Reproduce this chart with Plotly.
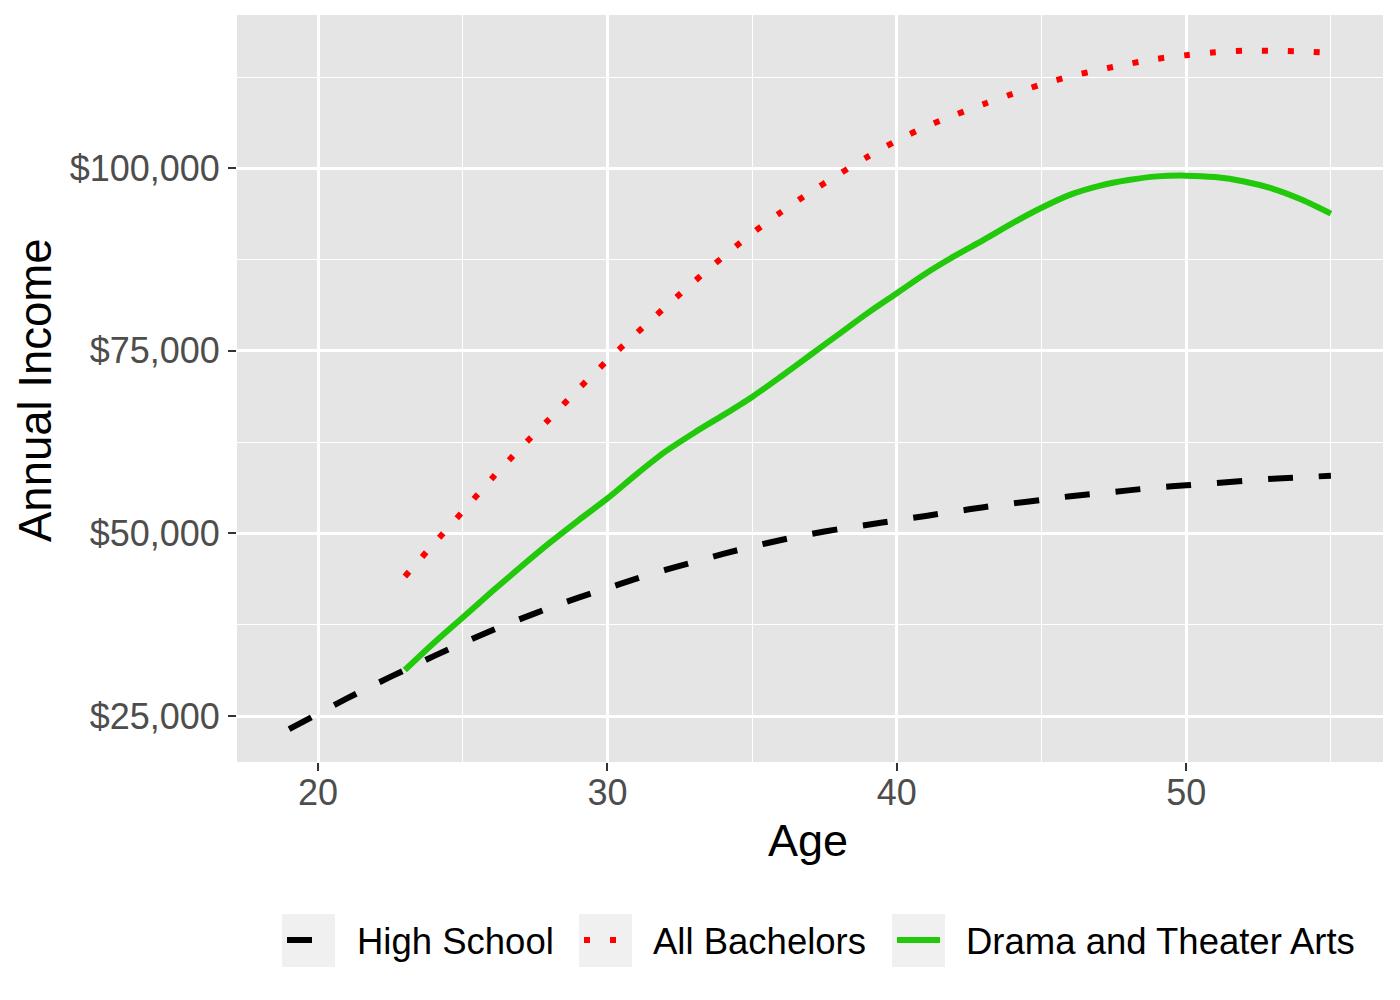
import plotly.graph_objects as go

# ---------------- data ----------------
ages_hs = [19, 20, 21, 22, 23, 24, 25, 26, 27, 28, 29, 30, 31, 32, 33, 34, 35, 36, 37,
           38, 39, 40, 41, 42, 43, 44, 45, 46, 47, 48, 49, 50, 51, 52, 53, 54, 55]
income_hs = [23200, 25300, 27400, 29400, 31300, 33200, 35000, 36700, 38300, 39800,
             41200, 42500, 43800, 45000, 46100, 47200, 48200, 49100, 49900, 50600,
             51200, 51800, 52400, 53000, 53600, 54100, 54600, 55100, 55500, 55900,
             56300, 56600, 56900, 57200, 57500, 57700, 57900]

ages_ba = [23, 24, 25, 26, 27, 28, 29, 30, 31, 32, 33, 34, 35, 36, 37, 38, 39,
           40, 41, 42, 43, 44, 45, 46, 47, 48, 49, 50, 51, 52, 53, 54, 55]
income_ba = [44100, 48600, 53000, 57500, 61700, 65700, 69800, 73700, 77400, 81000,
             84500, 87900, 91100, 94000, 96700, 99200, 101600, 103800, 105700, 107300,
             108800, 110200, 111500, 112600, 113500, 114300, 115000, 115500, 115900,
             116100, 116100, 116000, 115800]

ages_dr = [23, 24, 25, 26, 27, 28, 29, 30, 31, 32, 33, 34, 35, 36, 37, 38, 39,
           40, 41, 42, 43, 44, 45, 46, 47, 48, 49, 50, 51, 52, 53, 54, 55]
income_dr = [31300, 35000, 38500, 42000, 45400, 48700, 51800, 54800, 58100, 61200,
             63800, 66200, 68700, 71500, 74400, 77300, 80200, 82900, 85600, 88000,
             90200, 92500, 94600, 96400, 97600, 98400, 98900, 99000, 98800, 98200,
             97200, 95700, 93800]

series_names = ["High School", "All Bachelors", "Drama and Theater Arts"]
series_colors = ["#000000", "#FF0000", "#22C80A"]
series_dash = ["25px,26px", "6px,20px", "solid"]

x_ticks = [20, 30, 40, 50]
y_ticks = [25000, 50000, 75000, 100000]
y_tick_labels = ["$25,000", "$50,000", "$75,000", "$100,000"]

# ---------------- layout geometry ----------------
# the page body has an 8px margin, so the figure is drawn 8px in from the corner
OFF = 8
W, H = 1400 - OFF, 1000 - OFF
ML, MR, MT, MB = 237 - OFF, 17, 15 - OFF, 238
PW, PH = W - ML - MR, H - MT - MB
FONT = "Liberation Sans, Arial, Helvetica, sans-serif"
LW = 6


def px(xp):
    """screen x pixel -> paper coordinate"""
    return (xp - OFF - ML) / PW


def py(yp):
    """screen y pixel -> paper coordinate"""
    return (H - MB - (yp - OFF)) / PH


fig = go.Figure()
for ages, vals, name, col, dash in zip(
        [ages_hs, ages_ba, ages_dr], [income_hs, income_ba, income_dr],
        series_names, series_colors, series_dash):
    fig.add_trace(go.Scatter(
        x=ages, y=vals, mode="lines", name=name, showlegend=False,
        line=dict(color=col, width=LW, dash=dash, shape="spline", smoothing=0.8),
        hoverinfo="x+y+name"))

fig.update_layout(
    width=W, height=H,
    margin=dict(l=ML, r=MR, t=MT, b=MB, pad=0),
    paper_bgcolor="white", plot_bgcolor="#E5E5E5",
    font=dict(family=FONT, size=36, color="#4D4D4D"),
    showlegend=False,
)

fig.update_xaxes(
    range=[17.2, 56.8], tickvals=x_ticks, ticktext=[str(v) for v in x_ticks],
    showgrid=True, gridcolor="white", gridwidth=2.6, zeroline=False, showline=False,
    ticks="outside", ticklen=8, tickwidth=2.2, tickcolor="#333333",
    tickfont=dict(family=FONT, size=36, color="#4D4D4D"),
    minor=dict(tickvals=[15, 25, 35, 45, 55], showgrid=True, gridcolor="white",
               gridwidth=1.3, ticks=""),
    ticklabelstandoff=-9,
)
fig.update_yaxes(
    range=[18700, 121000], tickvals=y_ticks, ticktext=y_tick_labels,
    showgrid=True, gridcolor="white", gridwidth=2.6, zeroline=False, showline=False,
    ticks="outside", ticklen=8, tickwidth=2.2, tickcolor="#333333",
    tickfont=dict(family=FONT, size=36, color="#4D4D4D"),
    minor=dict(tickvals=[37500, 62500, 87500, 112500], showgrid=True,
               gridcolor="white", gridwidth=1.3, ticks=""),
    ticklabelstandoff=1,
)

# axis titles
fig.add_annotation(text="Age", x=px(808), y=py(840), xref="paper", yref="paper",
                   showarrow=False, xanchor="center", yanchor="middle",
                   font=dict(family=FONT, size=45, color="black"))
fig.add_annotation(text="Annual Income", x=px(35), y=py(390), xref="paper",
                   yref="paper", showarrow=False, textangle=-90,
                   xanchor="center", yanchor="middle",
                   font=dict(family=FONT, size=45.5, color="black"))

# legend (ggplot-style keys)
key_left = [282, 579, 892]
key_w = 53
text_left = [355, 651, 964]
ky0, ky1 = 914, 967
kyc = 940
shapes = []
for i in range(3):
    shapes.append(dict(type="rect", xref="paper", yref="paper",
                       x0=px(key_left[i]), x1=px(key_left[i] + key_w),
                       y0=py(ky1), y1=py(ky0), fillcolor="#F0F0F0",
                       line=dict(width=0), layer="below"))
    shapes.append(dict(type="line", xref="paper", yref="paper",
                       x0=px(key_left[i] + 5), x1=px(key_left[i] + key_w - 5),
                       y0=py(kyc), y1=py(kyc),
                       line=dict(color=series_colors[i], width=LW,
                                 dash=series_dash[i])))
    fig.add_annotation(text=series_names[i], x=px(text_left[i]), y=py(kyc + 1),
                       xref="paper", yref="paper", showarrow=False,
                       xanchor="left", yanchor="middle",
                       font=dict(family=FONT, size=36.5, color="black"))
fig.update_layout(shapes=shapes)

fig.write_html("out.html")
